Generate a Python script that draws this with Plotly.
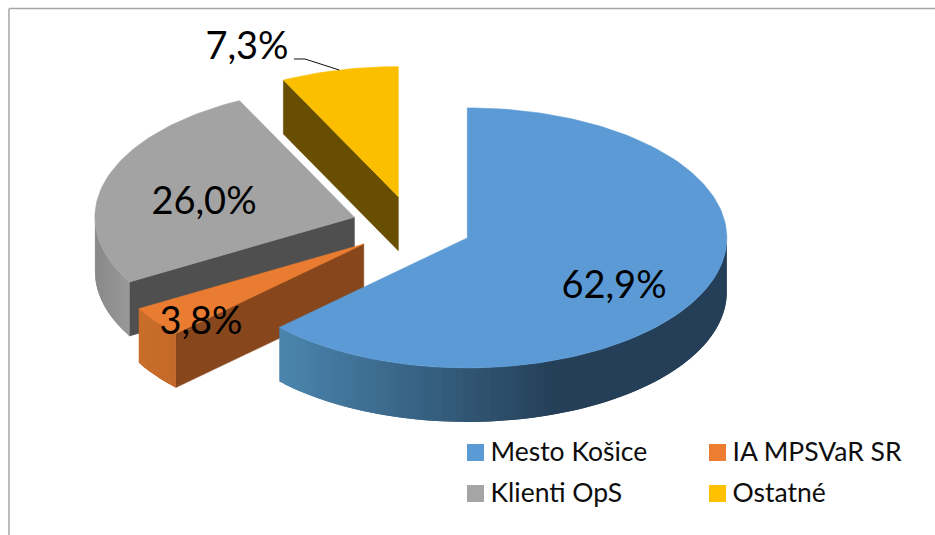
import numpy as np
import plotly.graph_objects as go

categories = ["Mesto Košice", "IA MPSVaR SR", "Klienti OpS", "Ostatné"]
shares = [62.9, 3.8, 26.0, 7.3]
share_labels = ["62,9%", "3,8%", "26,0%", "7,3%"]

W, H = 935, 535
CX, CY = 412.0, 226.0
RX, RY = 259.5, 130.0
DEPTH = 54.0
EXPLODE = 0.232

TOP = ["#5b9ad5", "#e97c30", "#a3a3a3", "#fcbf00"]
LEGEND = ["#5b9bd5", "#ed7d31", "#a5a5a5", "#ffc000"]
FACE = ["#2d5a82", "#87461b", "#4f4f4f", "#674e00"]
OUTER_L = ["#4a84ad", "#c96d2a", "#8a8a8a", "#8a6a00"]
OUTER_R = ["#243f57", "#c4682a", "#9a9a9a", "#8a6a00"]
OUTER_RANGE = [(279, 550), (138, 176), (95, 130), (0, 1)]

LABEL_POS = [(614, 288), (201, 324), (204, 204), (247, 49)]
LEGEND_POS = [(475.5, 452.5), (717.5, 452.5), (475.5, 493.5), (717.5, 493.5)]


def hex_rgb(c):
    return np.array([int(c[i:i + 2], 16) for i in (1, 3, 5)], float)


def mix(a, b, t):
    t = min(1.0, max(0.0, t))
    v = hex_rgb(a) * (1 - t) + hex_rgb(b) * t
    return "rgb(%d,%d,%d)" % tuple(v.round())


def rim(ax, ay, deg):
    r = np.radians(deg)
    return ax + RX * np.sin(r), ay - RY * np.cos(r)


def poly(fig, xs, ys, color, stroke=0.6):
    fig.add_trace(go.Scatter(
        x=list(xs), y=list(ys), mode="lines", fill="toself", fillcolor=color,
        line=dict(color=color, width=stroke), hoverinfo="skip", showlegend=False))


fig = go.Figure()

edges = np.cumsum([0.0] + shares) / sum(shares) * 360.0
apexes = []
for i in range(len(shares)):
    a0, a1 = edges[i], edges[i + 1]
    mid = np.radians((a0 + a1) / 2)
    apexes.append((CX + EXPLODE * RX * np.sin(mid), CY - EXPLODE * RY * np.cos(mid)))

# back-to-front painting
for i in [3, 2, 1, 0]:
    a0, a1 = edges[i], edges[i + 1]
    ax, ay = apexes[i]
    # cut faces that look toward the viewer
    for ang, visible in ((a0, np.sin(np.radians(a0)) < -1e-6), (a1, np.sin(np.radians(a1)) > 1e-6)):
        if visible:
            px, py = rim(ax, ay, ang)
            poly(fig, [ax, px, px, ax, ax], [ay, py, py + DEPTH, ay + DEPTH, ay], FACE[i])
    # outer wall (front half of the rim only); each band overlaps the previous one
    lo, hi = max(a0, 90.0), min(a1, 270.0)
    if hi > lo:
        steps = max(2, int((hi - lo) / 1.5))
        grid = np.linspace(lo, hi, steps + 1)
        xl, xr = OUTER_RANGE[i]
        for g0, g1 in zip(grid[:-1], grid[1:]):
            arc = np.linspace(max(lo, g0 - 1.5), g1, 5)
            x_, y_ = rim(ax, ay, arc)
            t = (rim(ax, ay, (g0 + g1) / 2)[0] - xl) / (xr - xl)
            poly(fig, np.r_[x_, x_[::-1], x_[0]], np.r_[y_, y_[::-1] + DEPTH, y_[0]],
                 mix(OUTER_L[i], OUTER_R[i], t), stroke=0)
    # top
    grid = np.linspace(a0, a1, max(3, int((a1 - a0) / 1.5)) + 1)
    rx_, ry_ = rim(ax, ay, grid)
    poly(fig, np.r_[ax, rx_, ax], np.r_[ay, ry_, ay], TOP[i])

# leader line of the smallest slice
lx, ly = rim(apexes[3][0], apexes[3][1], (edges[3] + edges[4]) / 2)
fig.add_trace(go.Scatter(x=[294, 305, lx], y=[59, 59, ly], mode="lines",
                         line=dict(color="#111111", width=1), hoverinfo="skip", showlegend=False))

# data labels
fig.add_trace(go.Scatter(
    x=[p[0] for p in LABEL_POS], y=[p[1] for p in LABEL_POS], mode="text",
    text=share_labels, textposition="middle center",
    textfont=dict(family="Lato", size=38, color="#000000"),
    hoverinfo="skip", showlegend=False))

# legend
fig.add_trace(go.Scatter(
    x=[p[0] for p in LEGEND_POS], y=[p[1] for p in LEGEND_POS], mode="markers",
    marker=dict(symbol="square", size=17, color=LEGEND, line=dict(width=0)),
    hoverinfo="skip", showlegend=False))
fig.add_trace(go.Scatter(
    x=[p[0] + 15 for p in LEGEND_POS], y=[p[1] + 1.5 for p in LEGEND_POS], mode="text",
    text=categories, textposition="middle right",
    textfont=dict(family="Lato", size=26.5, color="#0d0d0d"),
    hoverinfo="skip", showlegend=False))

# chart frame
line = dict(color="#a6a6a6", width=1.5)
fig.add_shape(type="line", x0=9, x1=9, y0=8.5, y1=H, line=line, layer="below")
fig.add_shape(type="line", x0=9, x1=W, y0=8.5, y1=8.5, line=line, layer="below")

fig.update_layout(
    width=W, height=H, autosize=False,
    margin=dict(l=0, r=0, t=0, b=0),
    paper_bgcolor="white", plot_bgcolor="white", showlegend=False,
    xaxis=dict(range=[0, W], visible=False, fixedrange=True),
    yaxis=dict(range=[H, 0], visible=False, fixedrange=True),
)
fig.write_html("out.html", config={"displayModeBar": False},
               post_script="document.body.style.margin='0';document.body.style.overflow='hidden';")
